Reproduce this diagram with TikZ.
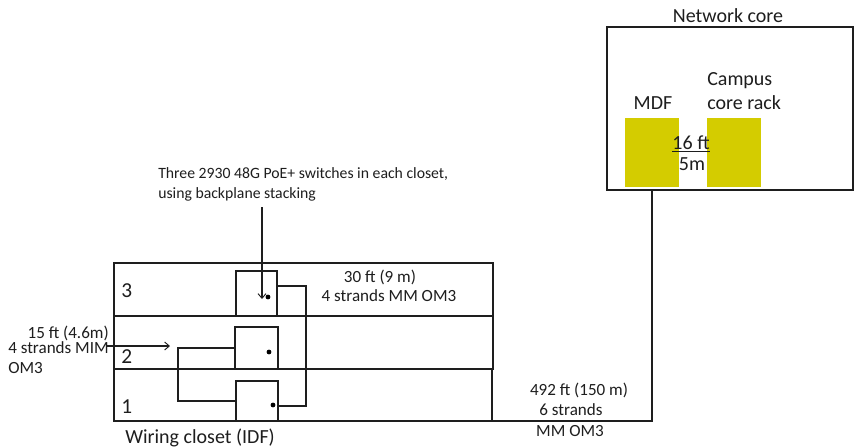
\documentclass[tikz,border=0pt]{standalone}
\usepackage{fontspec}
\setmainfont{Carlito}
\usetikzlibrary{arrows.meta}
\definecolor{rackyellow}{RGB}{212,204,0}
\definecolor{ink}{RGB}{30,30,30}
\begin{document}
\begin{tikzpicture}[x=0.75pt,y=-0.75pt,
  txtL/.style={font=\fontsize{15}{18}\selectfont, inner sep=0pt, text=ink},
  txtM/.style={font=\fontsize{12.8}{15}\selectfont, inner sep=0pt, text=ink},
  txtN/.style={font=\fontsize{16}{19}\selectfont, inner sep=0pt, text=ink},
  txtS/.style={font=\fontsize{11.8}{14}\selectfont, inner sep=0pt, text=ink},
  wire/.style={draw=ink, line width=0.8pt},
  rowbox/.style={draw=ink, line width=0.8pt, inner sep=0pt, outer sep=0pt},
  switchbox/.style={draw=ink, line width=0.8pt, inner sep=0pt, outer sep=0pt},
  corebox/.style={draw=ink, line width=1.1pt, inner sep=0pt, outer sep=0pt},
  rack/.style={fill=rackyellow, draw=none, inner sep=0pt, outer sep=0pt},
  dotmark/.style={circle, fill=black, inner sep=0pt, minimum size=3.6pt},
  barb/.style={-{Straight Barb[length=3.5pt,width=6pt,line width=0.7pt]}}
]
\useasboundingbox (0,0) rectangle (856,447);
\fill[white] (0,0) rectangle (856,447);

% network core
\node[corebox, minimum width=184.5pt, minimum height=122.25pt] (core) at (730,108.5) {};
\node[rack, minimum width=40.5pt, minimum height=51.75pt] (mdf) at (652,152.5) {};
\node[rack, minimum width=40.5pt, minimum height=51.75pt] (campus) at (734,152.5) {};
\node[txtL, anchor=base] (corelbl) at (728,22) {Network core};
\node[txtL, anchor=base] (mdflbl) at (653,109) {MDF};
\node[txtL, anchor=base west] (camplbl1) at (707,85) {Campus};
\node[txtL, anchor=base west] (camplbl2) at (707,109) {core rack};
\node[txtL, anchor=base] (dist16) at (691,149) {\underline{16 ft}};
\node[txtL, anchor=base] (dist5) at (692,170) {5m};

% wiring closet rows
\node[rowbox, minimum width=284.25pt, minimum height=39.75pt] (row3) at (303.5,289.5) {};
\node[rowbox, minimum width=284.25pt, minimum height=39.75pt] (row2) at (303.5,342.5) {};
\node[rowbox, minimum width=283.5pt, minimum height=39pt] (row1) at (303,395) {};
\draw[ink, line width=1.4pt] (row2.south east) -- (row3.north east) -- (row3.north west);

\node[txtN, anchor=base west] (n3) at (121,297) {3};
\node[txtN, anchor=base west] (n2) at (121,363) {2};
\node[txtN, anchor=base west] (n1) at (121,413) {1};

% switches
\node[switchbox, minimum width=30.75pt, minimum height=33.75pt] (sw3) at (256.5,293.5) {};
\node[switchbox, minimum width=32.25pt, minimum height=31.5pt] (sw2) at (256.5,348) {};
\node[switchbox, minimum width=31.5pt, minimum height=30pt] (sw1) at (257,401) {};
\node[dotmark] (d3) at (268,297) {};
\node[dotmark] (d2) at (269,352) {};
\node[dotmark] (d1) at (273,405) {};

% stacking loops
\draw[wire] ([yshift=5.625pt]sw3.east) -- ++(29,0) |- ([yshift=-3.75pt]sw1.east);
\draw[wire] (sw2.west) -- ++(-57,0) |- (sw1.west);

% labels
\node[txtL, anchor=base west] (idflbl) at (125,443) {Wiring closet (IDF)};
\node[txtS, anchor=base west] (note1) at (158,178) {Three 2930 48G PoE+ switches in each closet,};
\node[txtS, anchor=base west] (note2) at (158,198) {using backplane stacking};
\coordinate (notept) at (262,207);
\coordinate (sw3tip) at (262,299);
\draw[wire, barb] (notept) -- (sw3tip);

\node[txtM, anchor=base] (l30a) at (380,282) {30 ft (9 m)};
\node[txtM, anchor=base] (l30b) at (389,301) {4 strands MM OM3};

\node[txtM, anchor=base east] (l15a) at (109,338) {15 ft (4.6m)};
\node[txtM, anchor=base west] (l15b) at (8,353) {4 strands MIM};
\node[txtM, anchor=base west] (l15c) at (8,373) {OM3};
\coordinate (arr15) at (170,346);
\draw[wire, barb] ([xshift=-2.25pt]l15b.east |- arr15) -- (arr15);

\node[txtM, anchor=base] (l492a) at (579,395) {492 ft (150 m)};
\node[txtM, anchor=base] (l492b) at (571,415) {6 strands};
\node[txtM, anchor=base] (l492c) at (570,436) {MM OM3};

% uplink
\draw[wire] (mdf.south |- core.south) |- (row1.south east);
\end{tikzpicture}
\end{document}
